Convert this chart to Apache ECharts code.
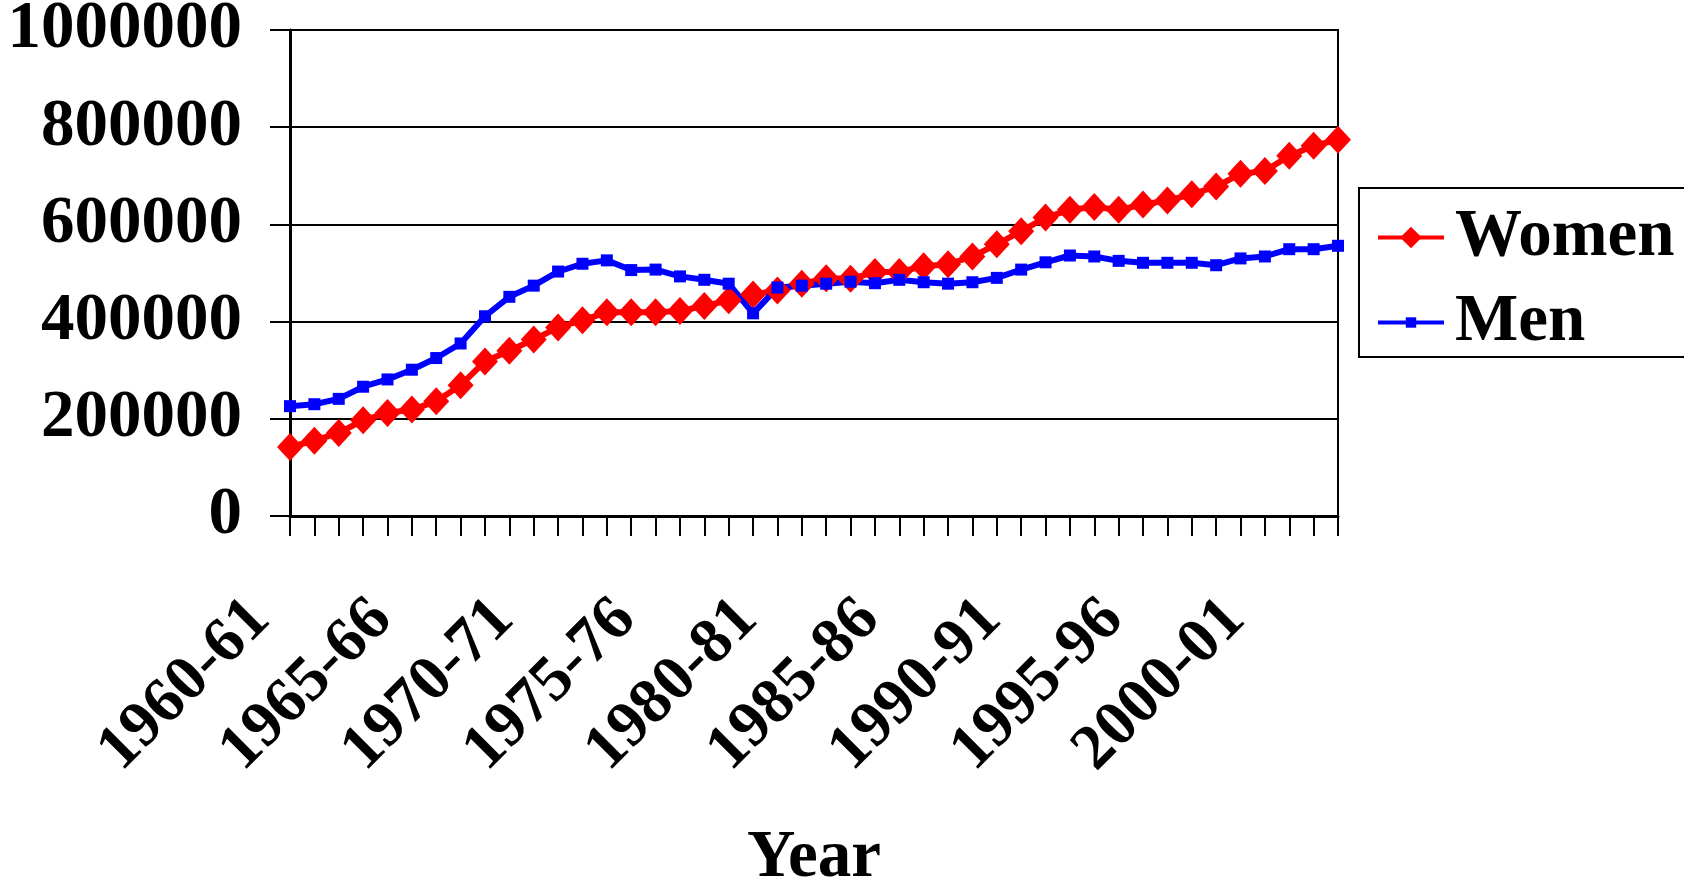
<!DOCTYPE html>
<html>
<head>
<meta charset="utf-8">
<title>Women and Men by Year</title>
<script src="https://cdn.jsdelivr.net/npm/echarts@6/dist/echarts.min.js"></script>
<style>
  html, body { margin: 0; padding: 0; background: #ffffff; }
  #chart { width: 1684px; height: 878px; }
</style>
</head>
<body>
<div id="chart"></div>
<script>
// Academic years 1960-61 through 2003-04
const years = [
  '1960-61','1961-62','1962-63','1963-64','1964-65','1965-66','1966-67','1967-68','1968-69','1969-70',
  '1970-71','1971-72','1972-73','1973-74','1974-75','1975-76','1976-77','1977-78','1978-79','1979-80',
  '1980-81','1981-82','1982-83','1983-84','1984-85','1985-86','1986-87','1987-88','1988-89','1989-90',
  '1990-91','1991-92','1992-93','1993-94','1994-95','1995-96','1996-97','1997-98','1998-99','1999-00',
  '2000-01','2001-02','2002-03','2003-04'
];

const women = [
  142000, 155000, 171000, 197000, 212000, 219000, 236000, 269000, 318000, 340000,
  363000, 388000, 403000, 419000, 419000, 419000, 422000, 432000, 444000, 456000,
  464000, 478000, 489000, 488000, 502000, 502000, 514000, 518000, 534000, 559000,
  586000, 614000, 630000, 636000, 630000, 641000, 649000, 662000, 678000, 704000,
  710000, 741000, 762000, 774000
];

const men = [
  226000, 230000, 241000, 266000, 281000, 301000, 325000, 355000, 411000, 451000,
  474000, 503000, 519000, 526000, 506000, 507000, 493000, 486000, 478000, 417000,
  470000, 474000, 478000, 482000, 479000, 486000, 481000, 478000, 481000, 490000,
  507000, 522000, 536000, 534000, 525000, 521000, 521000, 521000, 516000, 530000,
  534000, 549000, 549000, 556000
];

const yTicks = { min: 0, max: 1000000, step: 200000 };

const FONT = '"Liberation Serif", "Times New Roman", serif';
const bigText = { fontFamily: FONT, fontWeight: 'bold', fontSize: 67, color: '#000' };
const tickText = { fontFamily: FONT, fontWeight: 'bold', fontSize: 64, color: '#000' };

const chart = echarts.init(document.getElementById('chart'), null, { renderer: 'canvas' });

chart.setOption({
  animation: false,
  backgroundColor: '#ffffff',
  grid: {
    left: 290, right: 346, top: 30, bottom: 362,
    containLabel: false,
    outerBoundsMode: 'none',
    show: true, borderColor: '#000', borderWidth: 2, backgroundColor: 'transparent'
  },
  legend: [
    {
      data: ['Women'],
      left: 1376, top: 204,
      padding: 0,
      itemWidth: 66, itemHeight: 27,
      lineStyle: { width: 4 },
      textStyle: Object.assign({ lineHeight: 67, padding: [0, 0, 0, 6] }, bigText)
    },
    {
      data: ['Men'],
      left: 1376, top: 289,
      padding: 0,
      itemWidth: 66, itemHeight: 13,
      lineStyle: { width: 4 },
      textStyle: Object.assign({ lineHeight: 67, padding: [0, 0, 0, 6] }, bigText)
    }
  ],
  graphic: [
    {
      type: 'rect',
      shape: { x: 1359, y: 188, width: 340, height: 169 },
      style: { fill: 'none', stroke: '#000', lineWidth: 2 },
      silent: true
    }
  ],
  xAxis: {
    type: 'category',
    data: years,
    boundaryGap: false,
    name: 'Year',
    nameLocation: 'middle',
    nameGap: 309,
    nameTextStyle: bigText,
    axisLine: { lineStyle: { color: '#000', width: 3 } },
    axisTick: { show: true, interval: 0, length: 20, lineStyle: { color: '#000', width: 2 } },
    axisLabel: Object.assign({ interval: 4, rotate: 45, margin: 64, padding: [0, 42, 0, 0] }, tickText),
    splitLine: { show: false }
  },
  yAxis: {
    type: 'value',
    min: yTicks.min,
    max: yTicks.max,
    interval: yTicks.step,
    axisLine: { show: true, lineStyle: { color: '#000', width: 3 } },
    axisTick: { show: true, length: 20, lineStyle: { color: '#000', width: 2 } },
    axisLabel: Object.assign({ margin: 48, formatter: (v) => String(v) }, bigText),
    splitLine: { show: true, lineStyle: { color: '#000', width: 2 } }
  },
  series: [
    {
      name: 'Women',
      type: 'line',
      data: women,
      symbol: 'diamond',
      symbolSize: [26, 28],
      showAllSymbol: true,
      lineStyle: { color: '#ff0000', width: 6 },
      itemStyle: { color: '#ff0000' }
    },
    {
      name: 'Men',
      type: 'line',
      data: men,
      symbol: 'rect',
      symbolSize: 12,
      showAllSymbol: true,
      lineStyle: { color: '#0000ff', width: 6 },
      itemStyle: { color: '#0000ff' }
    }
  ]
});
</script>
</body>
</html>
